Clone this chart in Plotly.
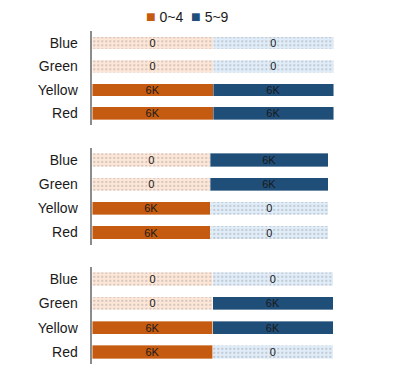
import plotly.graph_objects as go

categories = ["Blue", "Green", "Yellow", "Red"]
series_names = ["0~4", "5~9"]
panel1 = {"0~4": [0, 0, 6000, 6000], "5~9": [0, 0, 6000, 6000]}
panel2 = {"0~4": [0, 0, 6000, 6000], "5~9": [6000, 6000, 0, 0]}
panel3 = {"0~4": [0, 0, 6000, 6000], "5~9": [0, 6000, 6000, 0]}
panels = [panel1, panel2, panel3]

solid = {"0~4": "#C55A11", "5~9": "#1F4E79"}
light_bg = {"0~4": "#FCE6D8", "5~9": "#E0ECF8"}
light_fg = {"0~4": "#EFC3A6", "5~9": "#AFC8E3"}

W, H = 399, 374
def py(px):
    return 1 - px / H

# pixel extents (top, bottom) of each panel's category band
bands = [(31.3, 125.0), (147.9, 244.6), (266.8, 364.2)]
x_left = 92.3
x_ends = [333.7, 328.3, 333.0]
x_dom_right = 333.7

placeholder = max(max(max(v) for v in p.values()) for p in panels)

def fmt(v):
    if v == 0:
        return "0"
    if v >= 1000:
        return f"{v/1000:g}K"
    return str(v)

fig = go.Figure()
for i, p in enumerate(panels):
    ax = "" if i == 0 else str(i + 1)
    for s in series_names:
        vals = p[s]
        widths = [v if v > 0 else placeholder for v in vals]
        colors = [solid[s] if v > 0 else light_bg[s] for v in vals]
        shapes = ["" if v > 0 else "." for v in vals]
        fig.add_trace(go.Bar(
            y=categories, x=widths, orientation="h", name=s,
            text=[fmt(v) for v in vals], textposition="inside", textangle=0,
            insidetextanchor="middle", constraintext="none",
            textfont=dict(size=11, color="#1a1a1a", family="Liberation Sans, Arial"),
            marker=dict(color=colors,
                        line=dict(width=0.6, color="rgba(255,255,255,0.6)"),
                        pattern=dict(shape=shapes, fgcolor=light_fg[s],
                                     size=4, solidity=0.12, fillmode="overlay")),
            xaxis="x" + ax, yaxis="y" + ax, showlegend=False, hoverinfo="skip",
        ))

legend_text = "  ".join(
    f"<span style='color:{solid[s]};font-size:16px'>■</span> {s}" for s in series_names)

layout = dict(
    width=W, height=H, margin=dict(l=0, r=0, t=0, b=0),
    paper_bgcolor="white", plot_bgcolor="white",
    barmode="stack", bargap=0.46, showlegend=False,
    uniformtext=dict(minsize=11, mode="show"),
    font=dict(family="Liberation Sans, Arial", size=13.5, color="#1a1a1a"),
    annotations=[dict(text=legend_text, x=187 / W, y=py(17), xref="paper", yref="paper",
                      xanchor="center", yanchor="middle", showarrow=False,
                      font=dict(size=14, color="#1a1a1a"))],
)
for i in range(3):
    ax = "" if i == 0 else str(i + 1)
    top, bot = bands[i]
    total = placeholder * 2
    xmax = total * (x_dom_right - x_left) / (x_ends[i] - x_left)
    layout["xaxis" + ax] = dict(domain=[x_left / W, x_dom_right / W], range=[0, xmax],
                                visible=False, anchor="y" + ax)
    layout["yaxis" + ax] = dict(domain=[py(bot), py(top)], anchor="x" + ax,
                                categoryorder="array", categoryarray=categories,
                                autorange="reversed", showline=True, linecolor="#8c8c8c",
                                linewidth=1.5, showgrid=False, zeroline=False, ticks="",
                                ticklabelstandoff=10,
                                tickfont=dict(size=14, color="#1a1a1a"))
fig.update_layout(**layout)
fig.write_html("out.html", config={"displayModeBar": False})
with open("out.html", encoding="utf-8") as f:
    html = f.read()
html = html.replace("<body>", "<body style=\"margin:0\">", 1)
with open("out.html", "w", encoding="utf-8") as f:
    f.write(html)
